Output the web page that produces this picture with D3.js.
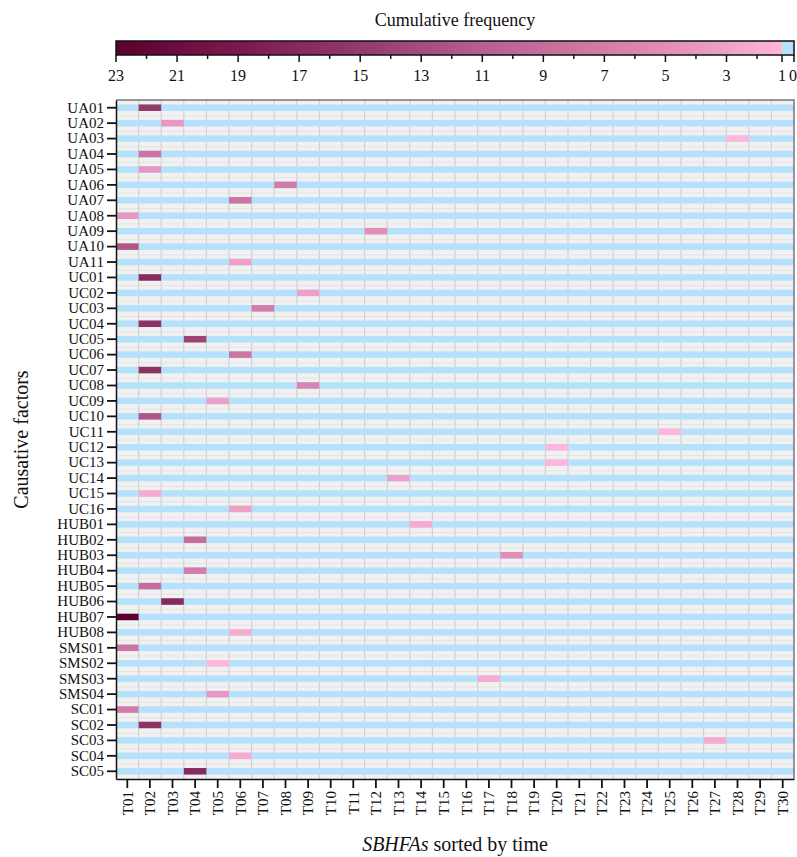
<html>
<head>
  <meta charset="utf-8" />
  <script src="https://cdnjs.cloudflare.com/ajax/libs/d3/7.8.5/d3.min.js"></script>
  <style>
    body { margin: 0; background: #fff; }
    text { font-family: "Liberation Serif", "DejaVu Serif", serif; fill: #111; }
    .axis path.domain { stroke: #111; }
    .axis line { stroke: #111; }
  </style>
</head>
<body>
  <svg width="797" height="857"></svg>
  <script>
    // one row per causative factor, one coloured cell each
    var factors = ["UA01","UA02","UA03","UA04","UA05","UA06","UA07","UA08","UA09","UA10","UA11",
                   "UC01","UC02","UC03","UC04","UC05","UC06","UC07","UC08","UC09","UC10","UC11",
                   "UC12","UC13","UC14","UC15","UC16",
                   "HUB01","HUB02","HUB03","HUB04","HUB05","HUB06","HUB07","HUB08",
                   "SMS01","SMS02","SMS03","SMS04",
                   "SC01","SC02","SC03","SC04","SC05"]
    var periods = ["T01","T02","T03","T04","T05","T06","T07","T08","T09","T10",
                   "T11","T12","T13","T14","T15","T16","T17","T18","T19","T20",
                   "T21","T22","T23","T24","T25","T26","T27","T28","T29","T30"]
    var cellPeriod = ["T02","T03","T28","T02","T02","T08","T06","T01","T12","T01","T06",
                      "T02","T09","T07","T02","T04","T06","T02","T09","T05","T02","T25",
                      "T20","T20","T13","T02","T06",
                      "T14","T04","T18","T04","T02","T03","T01","T06",
                      "T01","T05","T17","T05",
                      "T01","T02","T27","T06","T04"]
    var frequency  = [15, 4, 1, 8, 4, 7, 8, 4, 5, 12, 3,
                      17, 3, 7, 16, 14, 8, 16, 6, 3, 12, 1,
                      1, 1, 3, 2, 3,
                      2, 9, 5, 7, 9, 17, 23, 2,
                      8, 1, 2, 4,
                      7, 16, 2, 2, 17]
    var barTicks = [23, 21, 19, 17, 15, 13, 11, 9, 7, 5, 3, 1, 0]
    var minorTicks = [22, 20, 18, 16, 14, 12, 10, 8, 6, 4, 2]

    var colorStops = [1, 3, 7, 11, 15, 19, 23]
    var colorRange = ["#ffb6db", "#eea0c9", "#d37ca9", "#b75f8f", "#953a6b", "#7a1a4c", "#5c0030"]
    var zeroColor = "#b5e1fb"

    var plotL = 116, plotR = 794, plotT = 100, plotB = 779

    var svg = d3.select("svg")
    var color = d3.scaleLinear().domain(colorStops).range(colorRange).clamp(true)

    var x = d3.scaleBand().domain(periods).range([plotL, plotR])
    var y = d3.scaleBand().domain(factors).range([plotT, plotB])

    // ---- colour bar ----
    var cb = d3.scaleLinear().domain([23, 2, 1, 0]).range([116, 757, 782, 794])
    var barY = 41, barH = 14
    var strips = d3.range(116, 782, 1)
    svg.append("g").selectAll("rect")
      .data(strips)
      .enter().append("rect")
        .attr("x", d => d)
        .attr("y", barY)
        .attr("width", 1.2)
        .attr("height", barH)
        .attr("fill", d => color(cb.invert(d + 0.5)))
    svg.append("rect")
      .attr("x", cb(1)).attr("y", barY)
      .attr("width", cb(0) - cb(1)).attr("height", barH)
      .attr("fill", zeroColor)
    svg.append("rect")
      .attr("x", cb(23)).attr("y", barY)
      .attr("width", cb(0) - cb(23)).attr("height", barH)
      .attr("fill", "none").attr("stroke", "#111").attr("stroke-width", 1.5)

    var cbAxis = svg.append("g").attr("class", "axis")
      .attr("transform", `translate(0,${barY + barH})`)
    cbAxis.selectAll("line.major").data(barTicks).enter().append("line")
      .attr("x1", d => cb(d)).attr("x2", d => cb(d))
      .attr("y1", 0).attr("y2", 7).attr("stroke-width", 1.5)
    cbAxis.selectAll("line.minor").data(minorTicks).enter().append("line")
      .attr("x1", d => cb(d)).attr("x2", d => cb(d))
      .attr("y1", 0).attr("y2", 4).attr("stroke-width", 1.5)
    cbAxis.selectAll("text").data(barTicks).enter().append("text")
      .attr("x", d => d == 0 ? 789 : cb(d))
      .attr("y", 26)
      .attr("text-anchor", d => d == 0 ? "start" : "middle")
      .style("font-size", "16px")
      .text(d => d)

    svg.append("text")
      .attr("x", 455).attr("y", 26)
      .attr("text-anchor", "middle")
      .style("font-size", "18px")
      .text("Cumulative frequency")

    // ---- heatmap ----
    svg.append("rect")
      .attr("x", plotL).attr("y", plotT)
      .attr("width", plotR - plotL).attr("height", plotB - plotT)
      .attr("fill", "#f1f1f1")

    svg.append("g").selectAll("line")
      .data(factors.slice(1))
      .enter().append("line")
        .attr("x1", plotL).attr("x2", plotR)
        .attr("y1", d => y(d) + 0.5).attr("y2", d => y(d) + 0.5)
        .attr("stroke", "#e4e4e4")

    svg.append("g").selectAll("line")
      .data(periods.slice(1))
      .enter().append("line")
        .attr("x1", d => x(d)).attr("x2", d => x(d))
        .attr("y1", plotT).attr("y2", plotB)
        .attr("stroke", "#d2d2d2").attr("stroke-width", 1.2)

    var bandH = 6.5
    svg.append("g").selectAll("rect")
      .data(factors)
      .enter().append("rect")
        .attr("x", plotL)
        .attr("y", d => y(d) + y.bandwidth() / 2 - bandH / 2)
        .attr("width", plotR - plotL)
        .attr("height", bandH)
        .attr("fill", zeroColor)

    svg.append("g").selectAll("rect")
      .data(factors)
      .enter().append("rect")
        .attr("x", (d, i) => x(cellPeriod[i]))
        .attr("y", d => y(d) + y.bandwidth() / 2 - bandH / 2)
        .attr("width", x.bandwidth())
        .attr("height", bandH)
        .attr("fill", (d, i) => color(frequency[i]))

    svg.append("path")
      .attr("d", `M${plotL},${plotT}H${plotR}V${plotB}`)
      .attr("fill", "none").attr("stroke", "#777").attr("stroke-width", 1.5)

    var yAxis = svg.append("g").attr("class", "axis")
      .attr("transform", `translate(${plotL},0)`)
      .call(d3.axisLeft(y).tickSize(9).tickPadding(3).tickSizeOuter(0))
    yAxis.selectAll("text").style("font-size", "15px")
      .style("font-family", "Liberation Serif")
    yAxis.selectAll("line").attr("stroke-width", 1.8)
    yAxis.select("path.domain").attr("stroke-width", 1.5)

    var xAxis = svg.append("g").attr("class", "axis")
      .attr("transform", `translate(0,${plotB})`)
      .call(d3.axisBottom(x).tickSize(9).tickSizeOuter(0))
    xAxis.selectAll("text")
      .style("font-size", "15px")
      .style("font-family", "Liberation Serif")
      .attr("text-anchor", "end")
      .attr("transform", "rotate(-90)")
      .attr("x", -12).attr("y", 0).attr("dy", "0.35em")
    xAxis.selectAll("line").attr("stroke-width", 1.8)
    xAxis.select("path.domain").attr("stroke-width", 1.5)

    var xt = svg.append("text")
      .attr("x", 455).attr("y", 851)
      .attr("text-anchor", "middle")
      .style("font-size", "20px")
    xt.append("tspan").style("font-style", "italic").text("SBHFAs")
    xt.append("tspan").text(" sorted by time")

    svg.append("text")
      .attr("transform", `translate(28,${(plotT + plotB) / 2}) rotate(-90)`)
      .attr("text-anchor", "middle")
      .style("font-size", "20px")
      .text("Causative factors")
  </script>
</body>
</html>
